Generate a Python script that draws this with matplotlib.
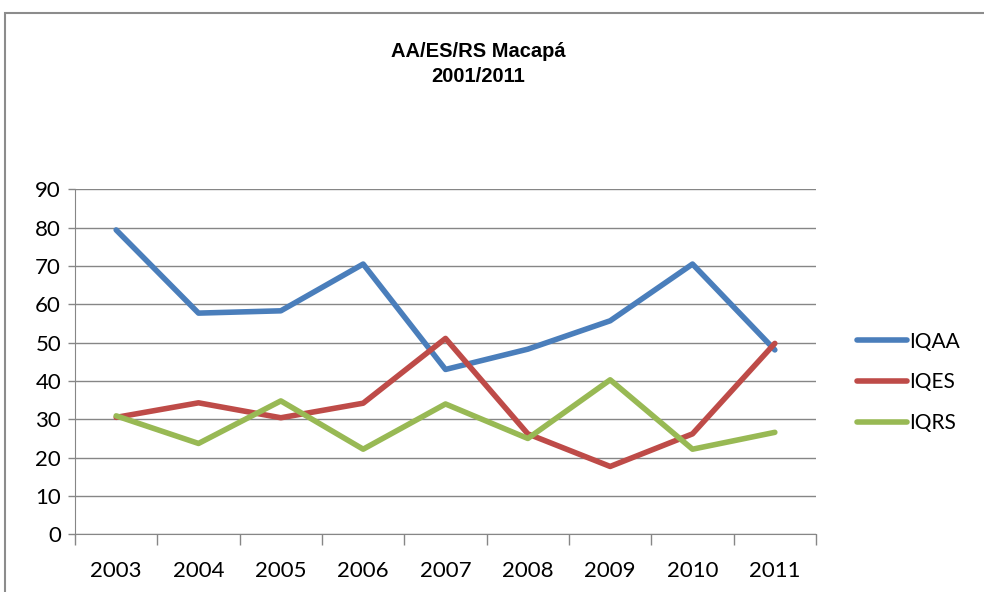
import numpy as np
import matplotlib.pyplot as plt
from matplotlib.patches import Rectangle

anos = ['2003', '2004', '2005', '2006', '2007', '2008', '2009', '2010', '2011']
iqaa = [79.4, 57.7, 58.3, 70.5, 43.0, 48.3, 55.7, 70.5, 48.1]
iqes = [30.5, 34.3, 30.4, 34.2, 51.1, 26.2, 17.7, 26.2, 49.8]
iqrs = [30.9, 23.7, 34.8, 22.2, 34.0, 25.0, 40.3, 22.2, 26.6]

cores = {'IQAA': '#4a7ebb', 'IQES': '#be4b48', 'IQRS': '#98b954'}
cinza = '#868686'

fig = plt.figure(figsize=(9.84, 5.92), dpi=100)
fig.patches.append(Rectangle((5/984, -0.1), 1.2, (592-13)/592 + 0.1,
                             transform=fig.transFigure, fill=False,
                             edgecolor='#8c8c8c', linewidth=1.5))

ax = fig.add_axes([75/984, (592-534.3)/592, (816-75)/984, (534.3-189.3)/592])
x = np.arange(len(anos)) + 0.5
ax.plot(x, iqaa, color=cores['IQAA'], lw=4, label='IQAA', solid_capstyle='round')
ax.plot(x, iqes, color=cores['IQES'], lw=4, label='IQES', solid_capstyle='round')
ax.plot(x, iqrs, color=cores['IQRS'], lw=4, label='IQRS', solid_capstyle='round')

ax.set_xlim(0, len(anos))
ax.set_ylim(0, 90)
ax.set_yticks(range(0, 91, 10))
ax.set_xticks(range(0, len(anos) + 1))
ax.set_xticklabels([])
ax.set_xticks(x, minor=True)
ax.set_xticklabels(anos, minor=True)
ax.tick_params(axis='x', which='minor', length=0, pad=19, labelsize=16)
ax.tick_params(axis='x', which='major', length=8, color=cinza, width=1)
ax.tick_params(axis='y', length=5, color=cinza, width=1, labelsize=16, pad=5)
for lab in ax.get_xticklabels(minor=True) + ax.get_yticklabels():
    lab.set_fontfamily('Lato')

ax.grid(axis='y', color=cinza, lw=1)
ax.set_axisbelow(True)
for s in ['top', 'right']:
    ax.spines[s].set_visible(False)
ax.spines['left'].set_color(cinza)
ax.spines['bottom'].set_color(cinza)

leg = ax.legend(loc='center left', bbox_to_anchor=(1.03, 0.44), frameon=False,
                handlelength=2.4, handletextpad=0.1, labelspacing=1.0,
                prop={'family': 'Lato', 'size': 15})

fig.text(478/984, 1 - 64/592, 'AA/ES/RS Macapá\n2001/2011', ha='center', va='center',
         fontsize=14.5, fontweight='bold', family='Liberation Sans', linespacing=1.45)

fig.savefig('out.png', dpi=100)
